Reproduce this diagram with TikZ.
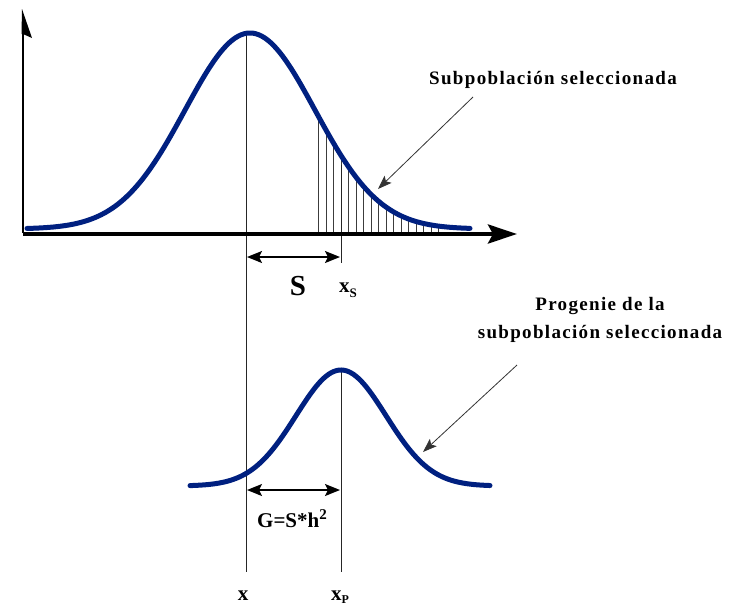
\documentclass[tikz,border=0pt]{standalone}
\usepackage{fontspec}
\setmainfont{Liberation Serif}
\usetikzlibrary{arrows.meta}
\definecolor{curveblue}{RGB}{0,32,128}
\definecolor{hatchgray}{RGB}{60,60,60}
\tikzset{
  curve/.style={draw=curveblue, line width=5pt, line cap=round, line join=round},
  guide/.style={draw=black!85, line width=1pt},
  hatch/.style={draw=hatchgray, line width=0.9pt},
  dimarrow/.style={draw=black, line width=1.6pt, {Stealth[length=15pt,width=12pt,inset=3pt]}-{Stealth[length=15pt,width=12pt,inset=3pt]}},
  callout/.style={draw=black!80, line width=0.8pt, -{Stealth[length=14pt,width=10pt,inset=3pt]}},
  lbl/.style={font=\bfseries\fontsize{19}{28}\selectfont\addfontfeature{LetterSpace=7}, inner sep=0pt, align=center},
  sym/.style={font=\bfseries\fontsize{21}{24}\selectfont, inner sep=0pt}
}
\begin{document}
\begin{tikzpicture}[x=1pt,y=-1pt]
\useasboundingbox (0,0) rectangle (744,606);
% coordinates
\coordinate (yaxB) at (23,233);
\coordinate (yaxT) at (23,30);
\coordinate (xaxL) at (23,234);
\coordinate (xaxR) at (517,234);
\coordinate (mTop) at (246,33);
\coordinate (mBot) at (246,572);
\coordinate (sTop) at (341,165);
\coordinate (sBot) at (341,263);
\coordinate (pTop) at (341,370);
\coordinate (pBot) at (341,572);
\coordinate (sL) at (247,257);
\coordinate (sR) at (340,257);
\coordinate (gL) at (247,490);
\coordinate (gR) at (340,490);
\coordinate (c1s) at (473,97);
\coordinate (c1e) at (378,189);
\coordinate (c2s) at (517,365);
\coordinate (c2e) at (423,452);

% hatching under the selected tail
\begin{scope}
\clip plot[domain=27:470, samples=150] (\x, {229-196*exp(-0.5*((\x-250)/65)^2)}) -- (470,234) -- (27,234) -- cycle;
\foreach \i in {0,...,16} {
  \draw[hatch] ({318.5+7.5*\i},234) -- ({318.5+7.5*\i},100);
}
\end{scope}

% guide lines
\draw[guide] (mTop) -- (mBot);
\draw[guide] (sTop) -- (sBot);
\draw[guide] (pTop) -- (pBot);

% top curve
\draw[curve] plot[domain=27:470, samples=150] (\x, {229-196*exp(-0.5*((\x-250)/65)^2)});

% bottom curve
\draw[curve] plot[domain=190:490, samples=120] (\x, {486-116*exp(-0.5*((\x-341)/45)^2)});

% axes
\draw[black, line width=2pt] (yaxB) -- (yaxT);
\fill[black] (22,9) -- (32,38) -- (23,34) -- (21.5,34) -- cycle;
\draw[black, line width=4pt, -{Stealth[length=29pt,width=19pt,inset=5pt]}] (xaxL) -- (xaxR);

% dimension arrows
\draw[dimarrow] (sL) -- (sR);
\draw[dimarrow] (gL) -- (gR);

% callouts
\draw[callout] (c1s) -- (c1e);
\draw[callout] (c2s) -- (c2e);

% labels
\node[lbl, anchor=base] (tsel) at (553,84) {Subpoblación seleccionada};
\node[lbl, anchor=base] (tprog) at (600,338) {Progenie de la\\subpoblación seleccionada};
\node[font=\bfseries\fontsize{29}{30}\selectfont, inner sep=0pt, anchor=base] (tS) at (298,295) {S};
\node[sym, anchor=base west] (txs) at (339,292) {x\raisebox{-5pt}{\fontsize{13}{14}\selectfont S}};
\node[font=\bfseries\fontsize{21}{24}\selectfont, inner sep=0pt, anchor=base] (tG) at (292,527) {G=S*h\raisebox{8pt}{\fontsize{15}{15}\selectfont 2}};
\node[sym, anchor=base] (tx) at (243,600) {x};
\node[sym, anchor=base west] (txp) at (331,600) {x\raisebox{-3.5pt}{\fontsize{12}{13}\selectfont P}};
\end{tikzpicture}
\end{document}
